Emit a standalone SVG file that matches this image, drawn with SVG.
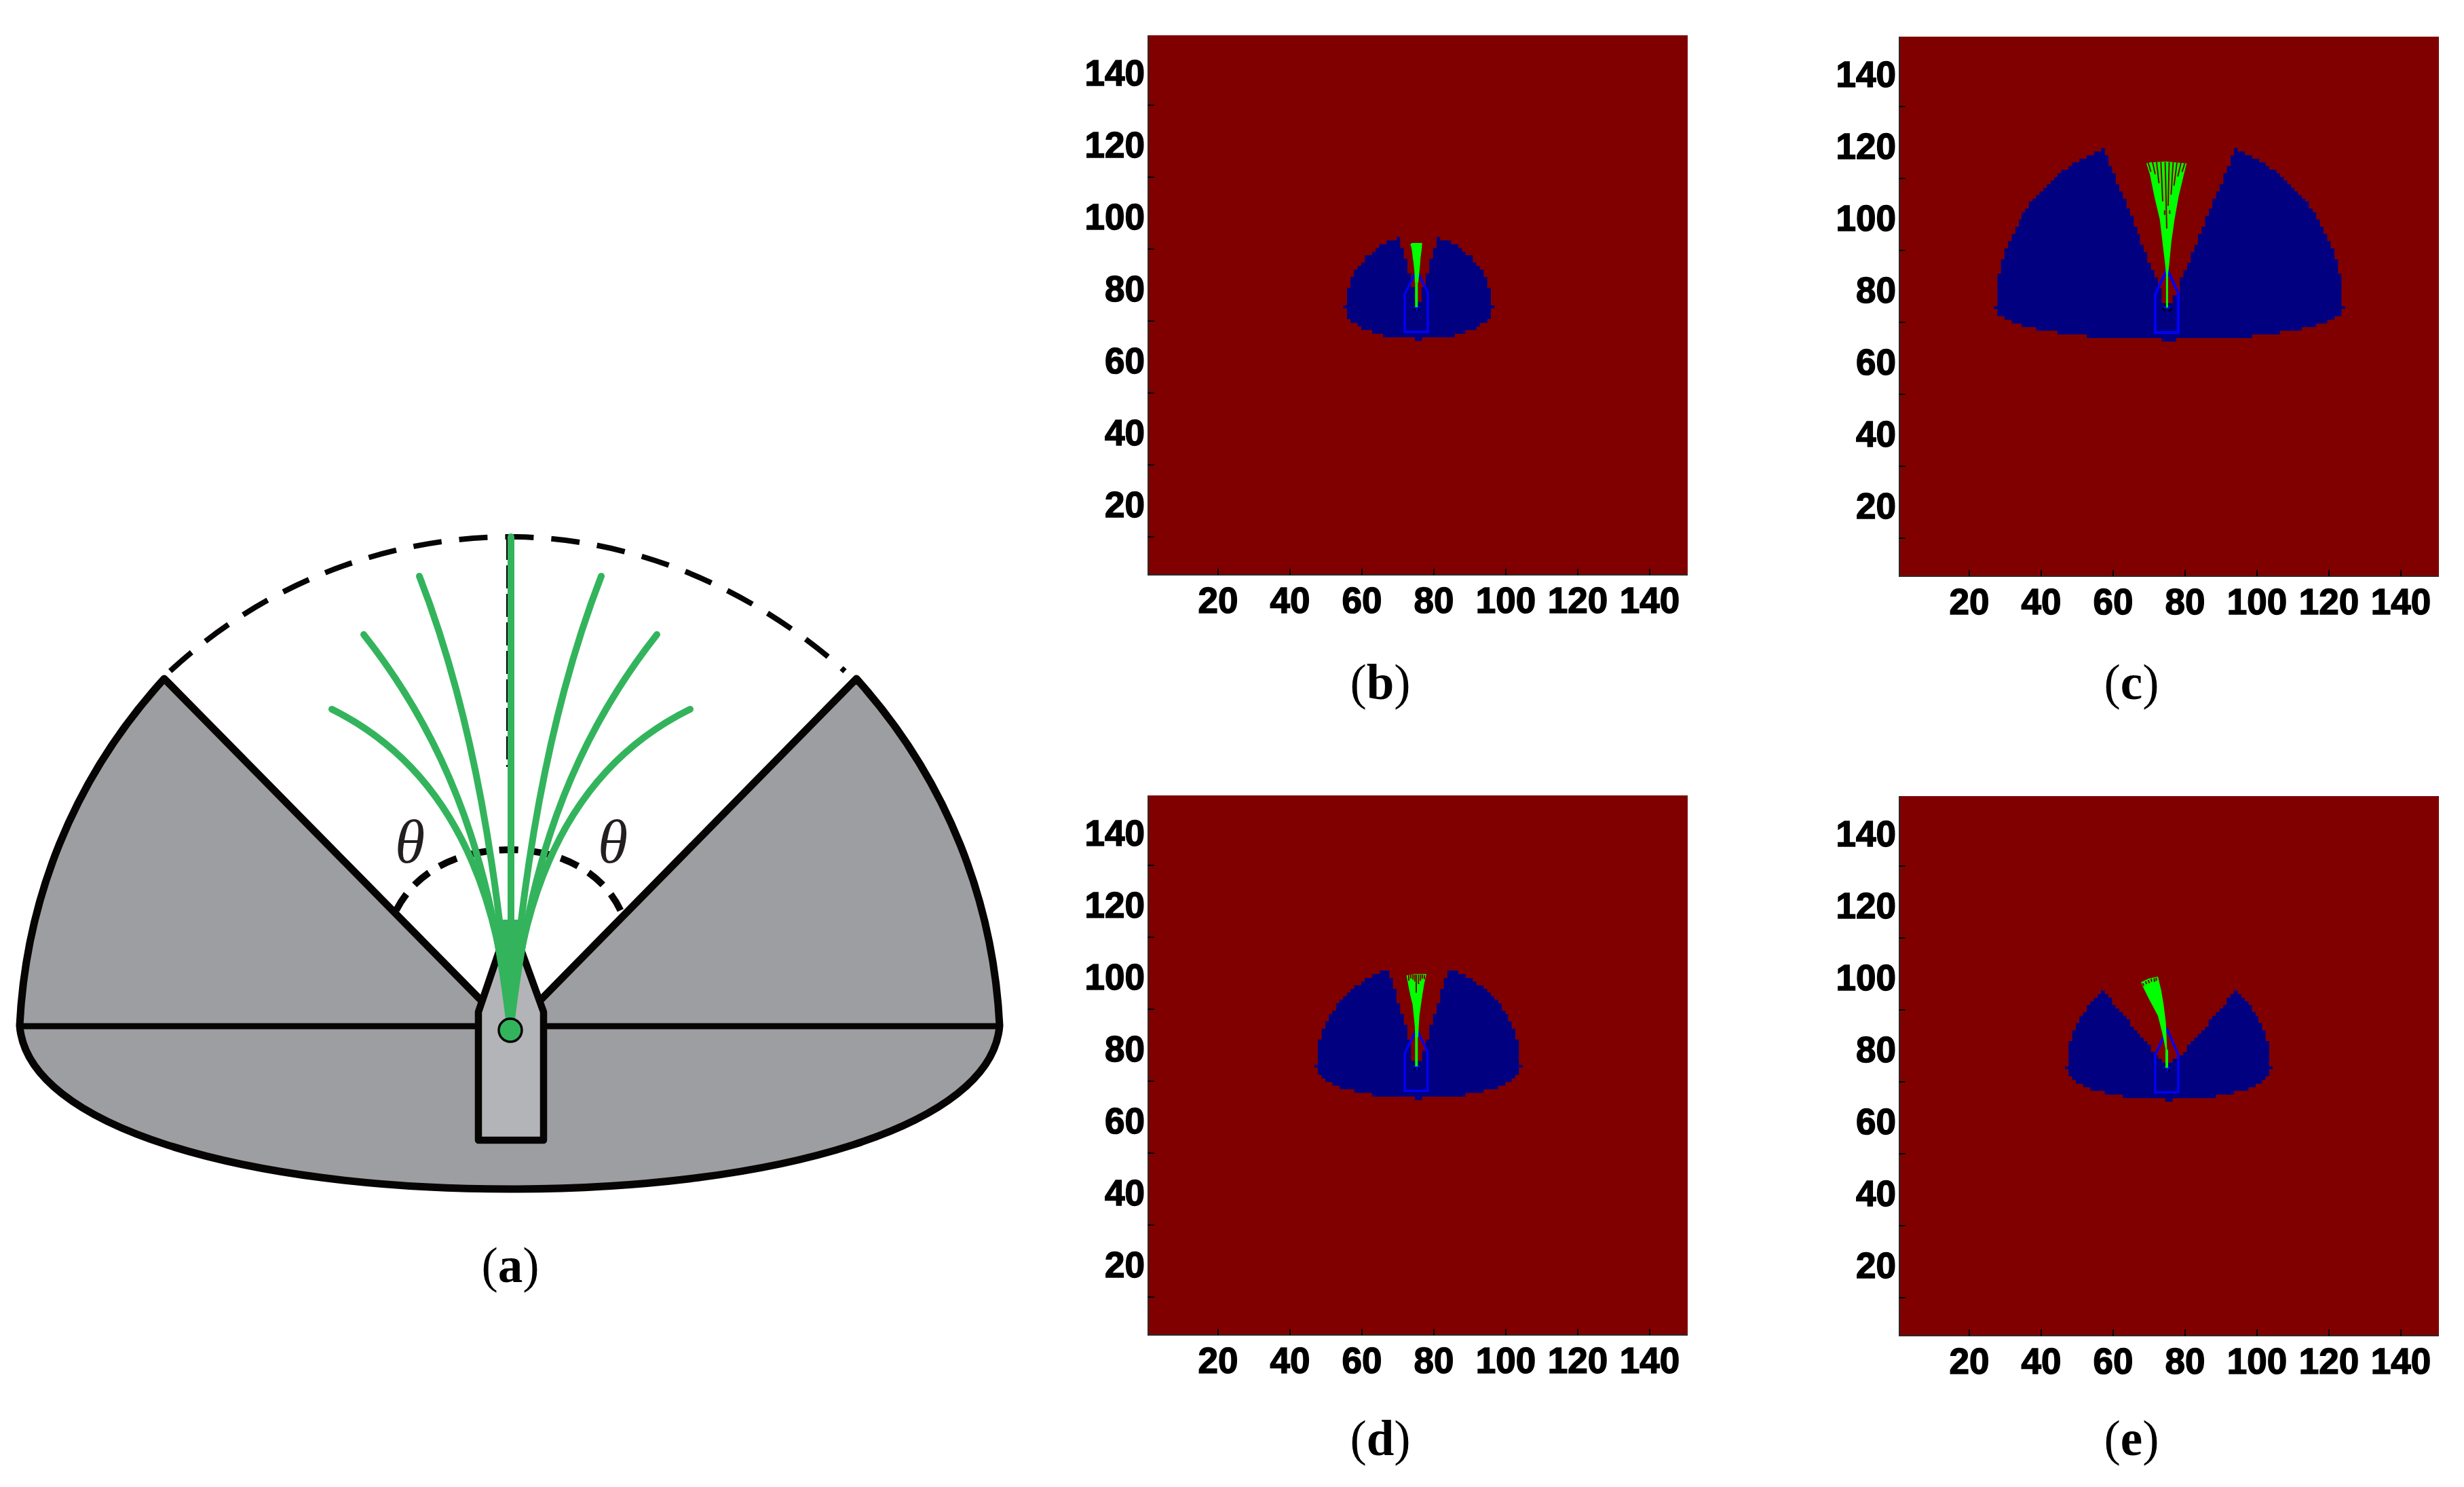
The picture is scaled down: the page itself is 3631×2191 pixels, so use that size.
<svg xmlns="http://www.w3.org/2000/svg" width="3631" height="2191" viewBox="0 0 3631 2191">
<style>
.bg{fill:#800000}.lobe{fill:#000080}
.rocket{fill:none;stroke:#0000ff;stroke-width:10}
.fan{fill:#00ff00}.stem{stroke:#00ff00;stroke-width:12;fill:none}
.slit{stroke:#800000;stroke-width:2;fill:none;vector-effect:non-scaling-stroke}
.mark{fill:none;stroke:#000;stroke-width:6;stroke-dasharray:6 5}.cross{stroke:#0000ff;stroke-width:6;fill:none}
.tick{font:bold 53px "Liberation Sans",Arial,sans-serif;fill:#000;stroke:#000;stroke-width:1.5}
.tk{stroke:#000;stroke-width:2;fill:none}
.ln{stroke:#2a2a2a;stroke-width:2;fill:none}
.cap{font:73px "Liberation Serif","Times New Roman",serif;fill:#000;text-anchor:middle}
.cap tspan{font-weight:bold}
.th{font:italic 90px "Liberation Serif","Times New Roman",serif;fill:#231f20;text-anchor:middle}
.g{fill:#9d9ea1;stroke:#070404;stroke-width:11;stroke-linejoin:round}
.gs{fill:none;stroke:#33b45c;stroke-width:10;stroke-linecap:round}
</style>
<defs>
<g id="ax">
<rect class="bg" width="795" height="795"/>
<path class="ln" d="M0,0V795H795"/>
<path class="tk" d="M103,795v-9M209,795v-9M315,795v-9M421,795v-9M527,795v-9M633,795v-9M739,795v-9M0,739h9M0,633h9M0,527h9M0,421h9M0,315h9M0,209h9M0,103h9"/>
<g class="tick" text-anchor="end"><text x="-5" y="74">140</text><text x="-5" y="180">120</text><text x="-5" y="286">100</text><text x="-5" y="392">80</text><text x="-5" y="498">60</text><text x="-5" y="604">40</text><text x="-5" y="710">20</text></g>
<g class="tick" text-anchor="middle"><text x="103" y="851">20</text><text x="209" y="851">40</text><text x="315" y="851">60</text><text x="421" y="851">80</text><text x="527" y="851">100</text><text x="633" y="851">120</text><text x="739" y="851">140</text></g>
</g>
</defs>
<rect width="3631" height="2191" fill="#fff"/>

<g id="panel-a">
<path class="g" d="M242,1000C105,1150 38,1330 29,1511C40,1660 360,1752 752,1752C1144,1752 1462,1660 1473,1511C1464,1330 1397,1150 1262,1000L798,1472H707Z"/>
<path fill="none" stroke="#070404" stroke-width="9" d="M29,1512H1473"/>
<path fill="none" stroke="#070404" stroke-width="8" stroke-dasharray="42 26" stroke-dashoffset="-12" d="M242,997C385,860 570,791 752,791C934,791 1110,868 1245,989"/>
<path fill="none" stroke="#070404" stroke-width="4" stroke-dasharray="34 8" d="M748,791V1130"/>
<path fill="none" stroke="#070404" stroke-width="10" stroke-dasharray="28 18" d="M584,1341C615,1280 680,1252 752,1252C825,1252 890,1285 916,1345"/>
<path fill="#b3b4b8" d="M705,1680V1491L736,1400H768L801,1491V1680Z"/>
<path fill="none" stroke="#070404" stroke-width="10.5" stroke-linejoin="round" d="M736,1400L705,1491V1680H801V1491L768,1400"/>
<path class="gs" d="M753,1518V791"/>
<path class="gs" d="M752,1518C735,1300 700,1060 618,849"/>
<path class="gs" d="M752,1518C730,1330 690,1130 536,935"/>
<path class="gs" d="M752,1518C738,1340 680,1140 489,1045"/>
<path class="gs" d="M752,1518C769,1300 804,1060 886,849"/>
<path class="gs" d="M752,1518C774,1330 814,1130 968,935"/>
<path class="gs" d="M752,1518C766,1340 824,1140 1017,1045"/>
<path fill="#33b45c" d="M746,1505L734,1400L725,1355H780L771,1400L758,1505Z"/>
<circle cx="752" cy="1518" r="17" fill="#33b45c" stroke="#070404" stroke-width="3.5"/>
<text class="th" x="604" y="1271">θ</text>
<text class="th" x="903" y="1271">θ</text>
<text class="cap" x="752" y="1889">(<tspan>a</tspan>)</text>
</g>

<g id="panel-b">
<use href="#ax" x="1692" y="52"/>
<g transform="translate(1950,320) scale(.3333)">
<path class="lobe" d="M324,88H340V136H356V184H372V248H388V310H405V375H435V310H453V248H469V184H485V136H501V88H517V103H565V120H597V136H613V152H629V168H661V200H677V216H693V232H709V264H725V312H741V390H757V403H741V451H725V467H693V484H677V499H629V515H581V531H437V547H405V531H264V515H216V499H168V483H152V467H120V451H105V403H88V390H105V312H120V264H136V232H152V216H168V200H184V168H216V152H232V136H248V120H280V103H324Z"/>
<path class="rocket" d="M360,507V340L413,235L462,332V507Z"/>
<circle class="mark" cx="414" cy="398" r="15"/><path class="cross" d="M396,398H432M414,380V416"/>
<path class="stem" d="M412,290V398"/>
<path class="fan" d="M385,120L392,114H437L436,135L430,180L428,210L425,240L420,290H405L403,240L400,210L396,180L391,140Z"/>
</g>
<text class="cap" x="2034" y="1030">(<tspan>b</tspan>)</text>
</g>

<g id="panel-c">
<use href="#ax" x="2799" y="54"/>
<g transform="translate(2900,190) scale(.3954,.3333)">
<path class="lobe" d="M497,84H510V116H524V164H537V196H551V244H564V276H577V308H591V352H604V384H618V432H631V464H641V512H655V544H668V592H682V624H695V656H708V704H722V770H763V735H790V656H803V624H817V592H830V544H844V512H857V464H871V432H884V384H898V352H911V308H925V276H938V244H952V196H965V164H979V116H992V84H1005V100H1032V116H1059V132H1086V148H1110V164H1123V180H1150V196H1163V212H1177V228H1190V244H1204V260H1217V276H1230V292H1244V308H1257V320H1271V352H1285V368H1298V400H1312V432H1325V464H1339V496H1352V528H1366V576H1379V640H1392V784H1406V796H1392V828H1366V844H1339V860H1298V876H1244V892H1163V908H1059V924H776V940H722V924H443V908H334V892H254V876H200V860H163V844H136V828H110V796H96V784H110V640H123V576H136V528H150V496H163V464H177V432H190V400H200V368H213V352H227V320H240V308H254V292H267V276H281V260H294V244H308V228H321V212H334V196H348V180H375V164H388V148H415V132H443V116H470V100H497Z"/>
<path class="rocket" style="stroke-width:4;vector-effect:non-scaling-stroke" d="M698,900V732L742,620L784,726V900Z"/>
<circle class="mark" style="vector-effect:non-scaling-stroke;stroke-width:3" cx="743" cy="790" r="15"/><path class="cross" style="vector-effect:non-scaling-stroke;stroke-width:2" d="M728,790H758"/>
<path class="stem" style="vector-effect:non-scaling-stroke;stroke-width:3" d="M742,620V790"/>
<path class="fan" d="M665,152L678,148L740,144L815,152L805,200L785,300L770,400L758,500L750,600L746,640H738L735,600L725,500L715,400L695,300L678,200Z"/>
<path class="slit" d="M672,150L682,190M688,146L698,200M703,146L712,240M719,146L726,320M735,146L741,440M750,146L746,340M765,146L757,290M779,148L768,250M794,150L782,210M808,152L798,190M733,360V380M752,360V375"/>
</g>
<text class="cap" x="3141" y="1030">(<tspan>c</tspan>)</text>
</g>

<g id="panel-d">
<use href="#ax" x="1692" y="1172"/>
<g transform="translate(1900,1400) scale(.3333)">
<path class="lobe" d="M400,90H442V123H458V171H474V235H490V282H506V330H522V395H538V490H587V443H603V395H619V330H635V282H651V235H667V171H683V123H699V90H747V106H779V123H811V139H827V155H859V171H875V187H891V203H907V219H923V235H939V267H955V283H967V315H983V347H999V395H1015V507H1031V519H1015V551H999V567H983V583H955V599H923V615H859V631H779V647H587V663H555V647H366V631H287V615H222V599H190V583H159V567H143V551H126V519H110V507H126V395H143V347H159V315H175V283H190V267H207V235H222V219H238V203H255V187H270V171H287V155H318V139H334V123H366V106H400Z"/>
<path class="rocket" d="M510,622V456L563,350L611,448V622Z"/>
<circle class="mark" cx="564" cy="514" r="15"/><path class="cross" d="M546,514H582M564,496V532"/>
<path class="stem" d="M562,380V514"/>
<path class="fan" d="M518,112L552,106H606L596,150L588,200L582,240L575,290L572,340L570,385H556L555,340L550,290L545,240L535,200L525,150Z"/>
<path class="slit" d="M528,110V135M537,108V125M546,108V130M554,108V138M561,108V188M571,108V150M580,108V135M588,108V125M597,110V128"/>
</g>
<text class="cap" x="2034" y="2144">(<tspan>d</tspan>)</text>
</g>

<g id="panel-e">
<use href="#ax" x="2799" y="1173"/>
<g transform="translate(3020,1400) scale(.3333)">
<path class="lobe" d="M228,178H245V194H261V210H277V242H293V258H309V274H325V290H341V306H357V338H373V354H389V370H401V386H417V402H433V418H449V450H465V465H480V480H497V497H545V480H576V465H592V450H608V418H624V402H640V386H656V370H672V354H688V338H704V306H720V290H736V274H752V258H768V242H784V210H800V194H816V178H832V194H848V210H864V226H880V242H896V274H912V290H924V322H940V354H956V402H972V514H988V526H972V558H956V574H940V590H912V606H880V622H816V638H736V654H545V670H513V654H324V638H245V622H181V606H149V590H117V574H101V558H85V526H69V514H85V402H101V354H117V322H133V290H149V274H165V242H181V226H197V210H213V194H228Z"/>
<path class="rocket" d="M468,628V462L505,385L522,352L570,462V628Z"/>
<circle class="mark" cx="522" cy="520" r="15"/><path class="cross" d="M504,520H540M522,502V538"/>
<path class="stem" d="M519,440V520"/>
<path class="fan" d="M405,142L440,125L480,117L495,180L505,240L515,320L521,450H516L500,370L480,290L440,215L420,175Z"/>
<path class="slit" d="M412,146L418,158M425,138L430,150M437,132L442,146M450,126L452,140M463,124L465,140M472,122L473,136"/>
</g>
<text class="cap" x="3141" y="2144">(<tspan>e</tspan>)</text>
</g>
</svg>
